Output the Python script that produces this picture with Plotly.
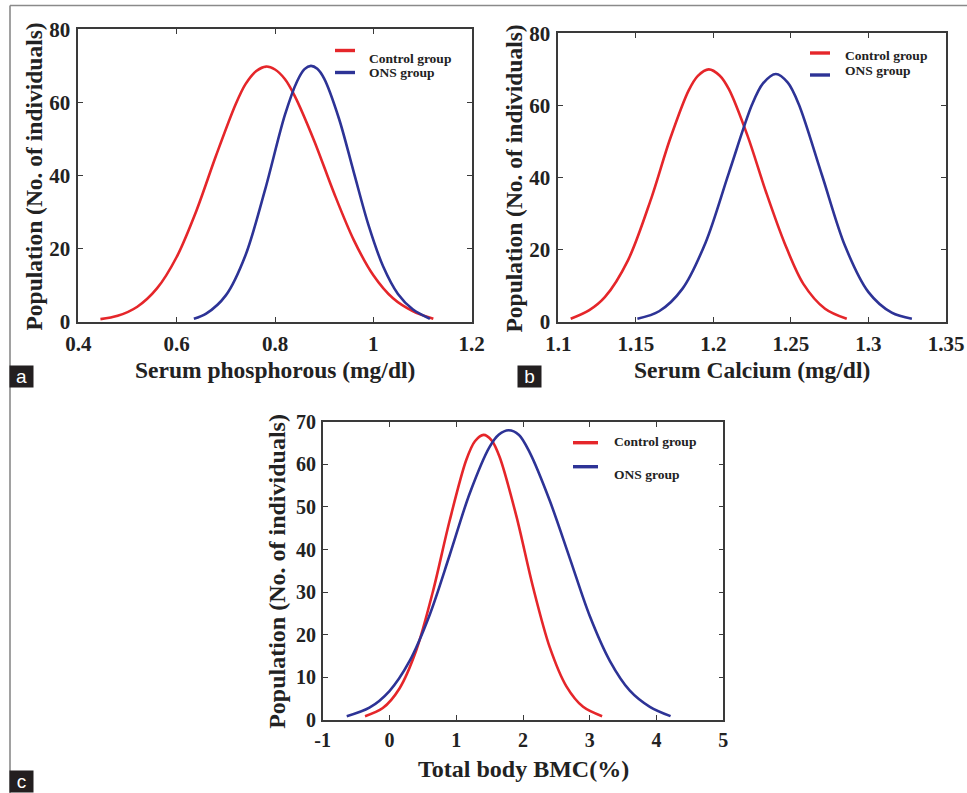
import plotly.graph_objects as go

# ---------------- data ----------------
# Panel a: Serum phosphorous
RED_A_X = [0.445, 0.48, 0.52, 0.56, 0.60, 0.64, 0.68, 0.72, 0.74, 0.762, 0.782, 0.80, 0.82, 0.84, 0.88, 0.92, 0.96, 1.00, 1.04, 1.08, 1.122]
RED_A_Y = [0.7, 1.6, 4.1, 9.1, 17.7, 30.3, 45.4, 59.5, 65.0, 68.6, 69.8, 69.0, 66.4, 61.8, 49.4, 35.2, 22.4, 12.7, 6.4, 2.9, 0.8]
BLUE_A_X = [0.635, 0.66, 0.70, 0.74, 0.78, 0.82, 0.845, 0.86, 0.873, 0.886, 0.90, 0.93, 0.96, 0.99, 1.02, 1.05, 1.08, 1.115]
BLUE_A_Y = [0.8, 2.2, 7.2, 18.2, 36.2, 56.5, 65.8, 69.1, 70.0, 69.2, 66.5, 55.6, 41.0, 26.5, 15.1, 7.6, 3.4, 0.8]

# Panel b: Serum Calcium
RED_B_X = [1.108, 1.12, 1.13, 1.145, 1.16, 1.172, 1.184, 1.19, 1.197, 1.204, 1.21, 1.222, 1.234, 1.246, 1.258, 1.272, 1.286]
RED_B_Y = [0.8, 3.2, 6.8, 17.1, 34.3, 50.6, 64.1, 68.2, 70.0, 68.3, 64.5, 51.6, 35.9, 21.7, 10.5, 3.6, 0.8]
BLUE_B_X = [1.151, 1.165, 1.18, 1.195, 1.21, 1.225, 1.232, 1.2403, 1.248, 1.255, 1.27, 1.285, 1.30, 1.315, 1.328]
BLUE_B_Y = [0.8, 2.9, 9.1, 22.0, 41.3, 60.3, 66.1, 68.7, 66.3, 60.4, 40.7, 20.9, 8.2, 2.5, 0.8]

# Panel c: Total body BMC
RED_C_X = [-0.366, -0.1, 0.15, 0.4, 0.65, 0.9, 1.15, 1.28, 1.409, 1.53, 1.65, 1.9, 2.15, 2.4, 2.65, 2.9, 3.185]
RED_C_Y = [0.9, 2.8, 7.4, 16.3, 30.1, 46.7, 61.0, 65.4, 66.9, 65.6, 61.7, 47.9, 31.2, 17.1, 7.9, 3.1, 0.9]
BLUE_C_X = [-0.64, -0.3, 0.0, 0.3, 0.6, 0.9, 1.2, 1.5, 1.64, 1.784, 1.94, 2.1, 2.4, 2.7, 3.0, 3.3, 3.6, 3.9, 4.21]
BLUE_C_Y = [0.9, 2.9, 6.8, 13.8, 24.6, 38.6, 53.1, 64.1, 67.0, 68.0, 66.9, 62.8, 51.5, 38.0, 24.4, 13.9, 6.9, 3.1, 0.9]

# ticks
XTICKS_A = [0.4, 0.6, 0.8, 1.0, 1.2]
XTEXT_A = ["0.4", "0.6", "0.8", "1", "1.2"]
XTICKS_B = [1.1, 1.15, 1.2, 1.25, 1.3, 1.35]
XTEXT_B = ["1.1", "1.15", "1.2", "1.25", "1.3", "1.35"]
XTICKS_C = [-1, 0, 1, 2, 3, 4, 5]
XTEXT_C = ["-1", "0", "1", "2", "3", "4", "5"]
YTICKS_AB = [0, 20, 40, 60, 80]
YTICKS_C = [0, 10, 20, 30, 40, 50, 60, 70]

SERIES_NAMES = ["Control group", "ONS group"]
X_TITLES = ["Serum phosphorous (mg/dl)", "Serum Calcium (mg/dl)", "Total body BMC(%)"]
Y_TITLE = "Population (No. of individuals)"
PANEL_LABELS = ["a", "b", "c"]

# ---------------- styling ----------------
W, H = 967, 793
RED = "#e5262a"
BLUE = "#2d3396"
AXC = "#3a3a3a"
TXT = "#222222"
SERIF = "Liberation Serif"


def px(x):
    return x / W


def py(y):
    return 1 - y / H


fig = go.Figure()

panels = [
    (RED_A_X, RED_A_Y, BLUE_A_X, BLUE_A_Y, "x", "y"),
    (RED_B_X, RED_B_Y, BLUE_B_X, BLUE_B_Y, "x2", "y2"),
    (RED_C_X, RED_C_Y, BLUE_C_X, BLUE_C_Y, "x3", "y3"),
]
for rx, ry, bx, by, xa, ya in panels:
    fig.add_trace(go.Scatter(x=rx, y=ry, mode="lines", name=SERIES_NAMES[0],
                             line=dict(color=RED, width=2.6, shape="spline", smoothing=0.9),
                             xaxis=xa, yaxis=ya, showlegend=False))
    fig.add_trace(go.Scatter(x=bx, y=by, mode="lines", name=SERIES_NAMES[1],
                             line=dict(color=BLUE, width=2.6, shape="spline", smoothing=0.9),
                             xaxis=xa, yaxis=ya, showlegend=False))


def axis_style(size):
    return dict(showline=True, linecolor=AXC, linewidth=1.6, mirror="ticks",
                ticks="inside", ticklen=5, tickwidth=1.4, tickcolor=AXC,
                showgrid=False, zeroline=False, fixedrange=True, automargin=False,
                tickfont=dict(family=SERIF, size=size, color=TXT, weight="bold"))


# plot-area rectangles in pixels: (left, right, top, bottom)
boxes = [(78.3, 471.7, 29.3, 321.7), (558.3, 946.0, 33.3, 321.7), (322.7, 723.3, 421.7, 720.0)]

fig.update_layout(
    width=W, height=H, margin=dict(l=0, r=0, t=0, b=0, autoexpand=False),
    paper_bgcolor="white", plot_bgcolor="white", showlegend=False,
    xaxis=dict(domain=[px(boxes[0][0]), px(boxes[0][1])], range=[0.4, 1.2],
               tickvals=XTICKS_A, ticktext=XTEXT_A, anchor="y", ticklabelstandoff=2, **axis_style(21)),
    yaxis=dict(domain=[py(boxes[0][3]), py(boxes[0][2])], range=[0, 80],
               tickvals=YTICKS_AB, anchor="x", ticklabelstandoff=2, **axis_style(21)),
    xaxis2=dict(domain=[px(boxes[1][0]), px(boxes[1][1])], range=[1.1, 1.35],
                tickvals=XTICKS_B, ticktext=XTEXT_B, anchor="y2", ticklabelstandoff=2, **axis_style(21)),
    yaxis2=dict(domain=[py(boxes[1][3]), py(boxes[1][2])], range=[0, 80],
                tickvals=YTICKS_AB, anchor="x2", ticklabelstandoff=2, **axis_style(21)),
    xaxis3=dict(domain=[px(boxes[2][0]), px(boxes[2][1])], range=[-1, 5],
                tickvals=XTICKS_C, ticktext=XTEXT_C, anchor="y3", ticklabelstandoff=1, **axis_style(20)),
    yaxis3=dict(domain=[py(boxes[2][3]), py(boxes[2][2])], range=[0, 70],
                tickvals=YTICKS_C, anchor="x3", ticklabelstandoff=1, **axis_style(20)),
)

annotations = []
shapes = []

# axis titles: (x-title center x, x-title y, y-title x, font size)
title_pos = [
    (275.0, 370.0, 34.0, 23.5),
    (752.0, 370.0, 513.0, 23.5),
    (523.0, 769.0, 277.0, 24.0),
]
for i, (b, (tx, ty, yx, fs)) in enumerate(zip(boxes, title_pos)):
    annotations.append(dict(text=X_TITLES[i], x=px(tx), y=py(ty), xref="paper", yref="paper",
                            xanchor="center", yanchor="middle", showarrow=False,
                            font=dict(family=SERIF, size=fs, color=TXT, weight="bold")))
    annotations.append(dict(text=Y_TITLE, x=px(yx), y=py((b[2] + b[3]) / 2 + 1), xref="paper", yref="paper",
                            xanchor="center", yanchor="middle", showarrow=False, textangle=-90,
                            font=dict(family=SERIF, size=fs, color=TXT, weight="bold")))

# legends: (line x0, line x1, red line y, blue line y, text x, red text y, blue text y)
legends = [
    (335, 355, 50.5, 72.5, 367, 58.5, 72.5),
    (810, 830, 53, 75, 843, 55.5, 71),
    (573, 598, 442.7, 466.7, 612, 441, 474),
]
for (x0, x1, ry, by, tx, rty, bty) in legends:
    for (yy, col) in ((ry, RED), (by, BLUE)):
        shapes.append(dict(type="line", xref="paper", yref="paper", x0=px(x0), x1=px(x1),
                           y0=py(yy), y1=py(yy), line=dict(color=col, width=3.4)))
    for name, yy in zip(SERIES_NAMES, (rty, bty)):
        annotations.append(dict(text=name, x=px(tx), y=py(yy), xref="paper", yref="paper",
                                xanchor="left", yanchor="middle", showarrow=False,
                                font=dict(family=SERIF, size=13.5, color=TXT, weight="bold")))

# panel letters
label_pos = [(21.5, 376.5), (529.5, 376.0), (21.5, 781.5)]
for lab, (lx, ly) in zip(PANEL_LABELS, label_pos):
    annotations.append(dict(text=lab, x=px(lx), y=py(ly), xref="paper", yref="paper",
                            xanchor="center", yanchor="middle", showarrow=False,
                            width=23, height=21, bgcolor="#231f20", borderpad=0,
                            font=dict(family="Liberation Sans", size=19, color="white")))

# outer frame (top and left edges)
shapes.append(dict(type="line", xref="paper", yref="paper", x0=px(10), x1=1.0, y0=py(5.5), y1=py(5.5),
                   line=dict(color="#8a8a8a", width=1.6)))
shapes.append(dict(type="line", xref="paper", yref="paper", x0=px(10), x1=px(10), y0=py(5.5), y1=0.0,
                   line=dict(color="#8a8a8a", width=1.6)))

fig.update_layout(annotations=annotations, shapes=shapes)

fig.write_html("out.html", config={"displayModeBar": False},
               post_script="document.body.style.margin='0';document.body.style.overflow='hidden';")
